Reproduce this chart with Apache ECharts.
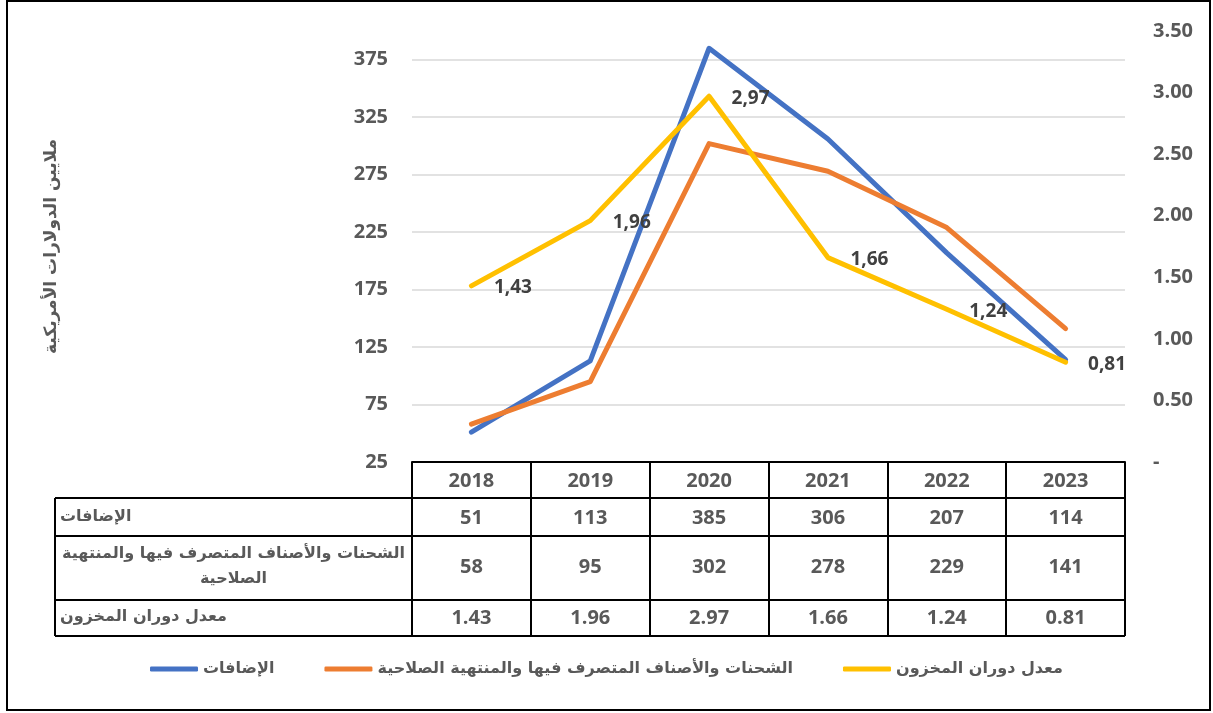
<!DOCTYPE html>
<html>
<head>
<meta charset="utf-8">
<script src="https://cdn.jsdelivr.net/npm/echarts@6/dist/echarts.min.js"></script>
<style>
  html, body { margin: 0; padding: 0; background: #fff; }
  #chart { width: 1213px; height: 713px; }
</style>
</head>
<body>
<div id="chart"></div>
<script>
// البيانات
var years = ['2018', '2019', '2020', '2021', '2022', '2023'];
var additions = [51, 113, 385, 306, 207, 114];
var disposed = [58, 95, 302, 278, 229, 141];
var turnover = [1.43, 1.96, 2.97, 1.66, 1.24, 0.81];
var seriesNames = ['الإضافات', 'الشحنات والأصناف المتصرف فيها والمنتهية الصلاحية', 'معدل دوران المخزون'];
var leftTicks = [25, 75, 125, 175, 225, 275, 325, 375];
var rightTicks = [0, 0.5, 1, 1.5, 2, 2.5, 3, 3.5];

var numFont = 'Open Sans';
var arFont = 'DejaVu Sans';
var gray = '#595959';

// مواقع الرسم والجدول
var gLeft = 412, gRight = 88, gTop = 31, gBottomY = 462;
var tableLeft = 55, tableRight = 1213 - gRight;
var rowLines = [498, 536, 600, 636];

var chart = echarts.init(document.getElementById('chart'));

// محاور الجدول (صف لكل سلسلة)
function rowAxis(values, margin, fmt) {
  return {
    type: 'category',
    gridIndex: 0,
    position: 'bottom',
    offset: 0,
    data: values.map(fmt),
    axisLine: { show: false },
    axisTick: { show: false },
    splitLine: { show: false },
    axisLabel: {
      interval: 0, margin: margin, verticalAlign: 'middle',
      color: gray, fontFamily: numFont, fontWeight: 'bold', fontSize: 20
    }
  };
}

var graphics = [
  // الإطار الخارجي
  { type: 'rect', shape: { x: 7, y: 1, width: 1203, height: 709 },
    style: { fill: 'none', stroke: '#000', lineWidth: 2 }, silent: true },
  // الخط العمودي الأيسر لعمود التسميات
  { type: 'line', shape: { x1: tableLeft, y1: rowLines[0], x2: tableLeft, y2: rowLines[3] },
    style: { stroke: '#000', lineWidth: 2 }, silent: true }
];
rowLines.forEach(function (y) {
  graphics.push({ type: 'line', shape: { x1: tableLeft, y1: y, x2: tableRight, y2: y },
    style: { stroke: '#000', lineWidth: 2 }, silent: true });
});
// تسميات الصفوف
var rowFont = 'bold 16px "' + arFont + '"';
graphics.push({ type: 'text', x: tableLeft + 5, y: 517,
  style: { text: seriesNames[0], fill: gray, font: rowFont, align: 'left', verticalAlign: 'middle' } });
graphics.push({ type: 'text', x: (tableLeft + gLeft) / 2, y: 566,
  style: { text: 'الشحنات والأصناف المتصرف فيها والمنتهية\nالصلاحية', fill: gray,
    font: rowFont, align: 'center', verticalAlign: 'middle', lineHeight: 25 } });
graphics.push({ type: 'text', x: tableLeft + 5, y: 617,
  style: { text: seriesNames[2], fill: gray, font: rowFont, align: 'left', verticalAlign: 'middle' } });

var option = {
  animation: false,
  backgroundColor: '#fff',
  grid: { left: gLeft, right: gRight, top: gTop, bottom: 713 - gBottomY, containLabel: false },
  legend: {
    bottom: 31,
    left: 'center',
    itemWidth: 48,
    itemHeight: 5,
    itemGap: 50,
    icon: 'roundRect',
    textStyle: { color: gray, fontFamily: arFont, fontWeight: 'bold', fontSize: 16 },
    data: seriesNames
  },
  xAxis: [
    {
      type: 'category',
      data: years,
      boundaryGap: true,
      axisLine: { show: true, lineStyle: { color: '#000', width: 2 } },
      axisTick: { show: true, interval: 0, length: rowLines[3] - gBottomY,
        lineStyle: { color: '#000', width: 2 } },
      axisLabel: { interval: 0, margin: 19, verticalAlign: 'middle',
        color: gray, fontFamily: numFont, fontWeight: 'bold', fontSize: 20 },
      splitLine: { show: false }
    },
    rowAxis(additions, 56, function (v) { return String(v); }),
    rowAxis(disposed, 105, function (v) { return String(v); }),
    rowAxis(turnover, 156, function (v) { return v.toFixed(2); })
  ],
  yAxis: [
    {
      type: 'value',
      min: 25, max: 400, interval: 50,
      name: 'ملايين الدولارات الأمريكية',
      nameLocation: 'middle',
      nameGap: 352,
      nameTextStyle: { color: gray, fontFamily: arFont, fontWeight: 'bold', fontSize: 17 },
      axisLine: { show: false },
      axisTick: { show: false },
      axisLabel: {
        margin: 24, color: gray, fontFamily: numFont, fontWeight: 'bold', fontSize: 20,
        formatter: function (v) { return leftTicks.indexOf(v) >= 0 ? String(v) : ''; }
      },
      splitLine: { show: true, showMinLine: false, showMaxLine: false,
        lineStyle: { color: '#d9d9d9', width: 1.5 } }
    },
    {
      type: 'value',
      min: 0, max: 3.5, interval: 0.5,
      position: 'right',
      axisLine: { show: false },
      axisTick: { show: false },
      splitLine: { show: false },
      axisLabel: {
        margin: 28, color: gray, fontFamily: numFont, fontWeight: 'bold', fontSize: 20,
        formatter: function (v) {
          if (rightTicks.indexOf(v) < 0) return '';
          return v === 0 ? '-' : v.toFixed(2);
        }
      }
    }
  ],
  series: [
    {
      name: seriesNames[0], type: 'line', data: additions, yAxisIndex: 0,
      symbol: 'none', color: '#4472C4',
      lineStyle: { width: 5, color: '#4472C4', cap: 'round', join: 'round' }
    },
    {
      name: seriesNames[1], type: 'line', data: disposed, yAxisIndex: 0,
      symbol: 'none', color: '#ED7D31',
      lineStyle: { width: 5, color: '#ED7D31', cap: 'round', join: 'round' }
    },
    {
      name: seriesNames[2], type: 'line', data: turnover, yAxisIndex: 1,
      symbol: 'circle', symbolSize: 1, showSymbol: true, color: '#FFC000',
      itemStyle: { color: '#FFC000' },
      lineStyle: { width: 5, color: '#FFC000', cap: 'round', join: 'round' },
      label: {
        show: true, position: 'right', distance: 22, offset: [0, 2],
        color: '#404040', fontFamily: numFont, fontWeight: 'bold', fontSize: 19,
        formatter: function (p) { return p.value.toFixed(2).replace('.', ','); }
      }
    }
  ],
  graphic: graphics
};

chart.setOption(option);
</script>
</body>
</html>
